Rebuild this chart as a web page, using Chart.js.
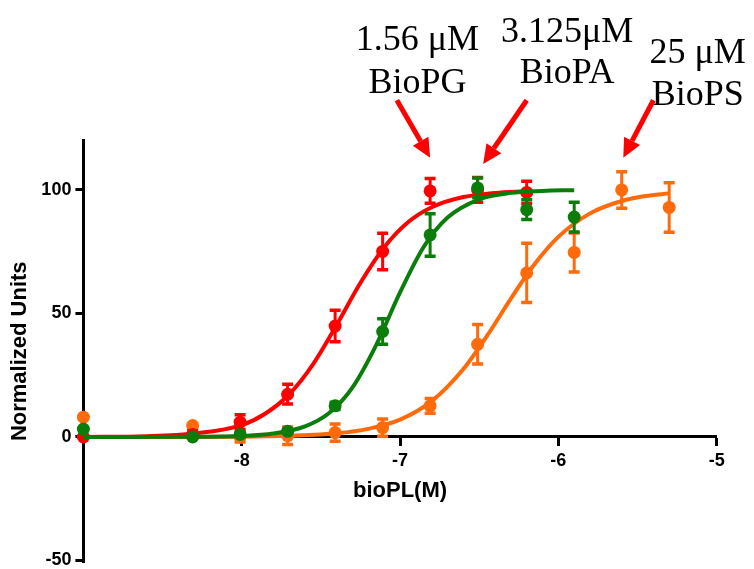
<!DOCTYPE html>
<html>
<head>
<meta charset="utf-8">
<script src="https://cdn.jsdelivr.net/npm/chart.js@4/dist/chart.umd.min.js"></script>
<style>
  body { margin: 0; background: #fff; }
  #wrap { width: 754px; height: 569px; }
</style>
</head>
<body>
<div id="wrap"><canvas id="chart" width="754" height="569"></canvas></div>
<script>
// log[bioPL] (M); -9 is the vehicle point plotted on the axis
const doses = [-9, -8.31, -8.01, -7.71, -7.41, -7.11, -6.81, -6.51, -6.2, -5.9, -5.6, -5.3];

const pgMean = [0, 1, 6, 17.3, 44.9, 75.1, 99.6, 100, 99];
const pgErr = [0, 1.5, 3, 4, 6.4, 7.4, 5, 5, 4.5];
const paMean = [3.2, 0, 1, 2.3, 12.6, 42.7, 81.8, 100.8, 92, 89];
const paErr = [0, 0.5, 0.5, 0.8, 1.5, 5.2, 8.6, 4, 4, 6];
const psMean = [8, 4.6, 0, 0.5, 1.8, 3.8, 12.6, 37.5, 66.4, 74.7, 100, 92.9];
const psErr = [0, 0, 2, 3.5, 3.5, 3.5, 3, 8, 12, 7.9, 7.4, 10];

// fitted curves
const pgFitX = [-9, -8.6, -8.3, -8.0, -7.85, -7.7, -7.55, -7.4, -7.25, -7.1, -6.95, -6.8, -6.6, -6.4, -6.2];
const pgFitY = [0, 0.3, 1.4, 4.8, 9.5, 17.3, 29.4, 45.4, 62.4, 76.8, 86.9, 93, 97.1, 98.8, 99.5];
const paFitX = [-9, -8.3, -8.0, -7.8, -7.6, -7.45, -7.3, -7.15, -7.0, -6.85, -6.7, -6.5, -6.3, -6.1, -5.9];
const paFitY = [0, 0.1, 0.4, 1.4, 4.3, 9.6, 20.1, 37.3, 58.5, 77, 88.8, 96.2, 98.8, 99.6, 99.9];
const psFitX = [-9, -8.5, -8.0, -7.7, -7.4, -7.2, -7.0, -6.8, -6.6, -6.45, -6.3, -6.15, -6.0, -5.8, -5.6, -5.45, -5.3];
const psFitY = [0, 0, 0.1, 0.5, 1.5, 3.3, 7.0, 14.5, 27.5, 41, 56, 70, 81, 90.5, 95.5, 97.5, 98.6];

const xTicks = [-8, -7, -6, -5];
const yTicks = [-50, 0, 50, 100];

const RED = '#ff0000', GREEN = '#0a7d0a', ORANGE = '#ff6a0a';

// annotations: label lines, text anchor, arrow tail -> tip (data coords)
const notes = [
  { lines: ['1.56 \u03bcM', 'BioPG'], x: -6.89, y: [156.5, 139.1], from: [-7.02, 136.3], to: [-6.81, 113], color: RED },
  { lines: ['3.125\u03bcM', 'BioPA'], x: -5.945, y: [159.7, 143.1], from: [-6.2, 136.3], to: [-6.475, 110.5], color: RED },
  { lines: ['25 \u03bcM', 'BioPS'], x: -5.12, y: [151.2, 134.3], from: [-5.4, 136.3], to: [-5.59, 113], color: RED },
];

const pts = (xs, ys) => ys.map((v, i) => ({ x: xs[i], y: v }));

function pointSet(label, means, errs, color, order) {
  return {
    label, data: pts(doses, means), errors: errs,
    backgroundColor: color, borderColor: color,
    pointRadius: 6.5, pointHoverRadius: 6.5, borderWidth: 0,
    showLine: false, clip: false, order,
  };
}

function fitSet(label, xs, ys, color, order) {
  return {
    label, data: pts(xs, ys), borderColor: color, backgroundColor: color,
    borderWidth: 4, pointRadius: 0, showLine: true,
    cubicInterpolationMode: 'monotone', clip: false, order,
  };
}

const errorBars = {
  id: 'errorBars',
  afterDatasetDraw(chart, args) {
    const ds = chart.data.datasets[args.index];
    if (!ds.errors) return;
    const { ctx, scales: { x, y } } = chart;
    ctx.save();
    ctx.strokeStyle = ds.backgroundColor;
    ds.data.forEach((p, i) => {
      const e = ds.errors[i];
      if (!e) return;
      const px = x.getPixelForValue(p.x);
      const top = y.getPixelForValue(p.y + e);
      const bot = y.getPixelForValue(p.y - e);
      ctx.lineWidth = 3;
      ctx.beginPath();
      ctx.moveTo(px, top); ctx.lineTo(px, bot);
      ctx.stroke();
      ctx.lineWidth = 3.5;
      ctx.beginPath();
      ctx.moveTo(px - 5.5, top); ctx.lineTo(px + 5.5, top);
      ctx.moveTo(px - 5.5, bot); ctx.lineTo(px + 5.5, bot);
      ctx.stroke();
    });
    ctx.restore();
  }
};

const callouts = {
  id: 'callouts',
  afterDraw(chart) {
    const { ctx, scales: { x, y } } = chart;
    ctx.save();
    ctx.font = '36px "Liberation Serif", "Times New Roman", serif';
    ctx.textAlign = 'center';
    ctx.textBaseline = 'alphabetic';
    notes.forEach(n => {
      ctx.fillStyle = '#000';
      n.lines.forEach((t, i) => ctx.fillText(t, x.getPixelForValue(n.x), y.getPixelForValue(n.y[i])));
      const x0 = x.getPixelForValue(n.from[0]), y0 = y.getPixelForValue(n.from[1]);
      const x1 = x.getPixelForValue(n.to[0]), y1 = y.getPixelForValue(n.to[1]);
      const ang = Math.atan2(y1 - y0, x1 - x0);
      const head = 19, half = 9;
      const bx = x1 - head * Math.cos(ang), by = y1 - head * Math.sin(ang);
      ctx.strokeStyle = n.color;
      ctx.fillStyle = n.color;
      ctx.lineWidth = 5;
      ctx.beginPath();
      ctx.moveTo(x0, y0); ctx.lineTo(bx, by);
      ctx.stroke();
      ctx.beginPath();
      ctx.moveTo(x1, y1);
      ctx.lineTo(bx + half * Math.sin(ang), by - half * Math.cos(ang));
      ctx.lineTo(bx - half * Math.sin(ang), by + half * Math.cos(ang));
      ctx.closePath();
      ctx.fill();
    });
    ctx.restore();
  }
};

const tickFont = { family: '"Liberation Sans", Arial, sans-serif', size: 18, weight: 'bold' };
const titleFont = { family: '"Liberation Sans", Arial, sans-serif', size: 22, weight: 'bold' };

new Chart(document.getElementById('chart'), {
  type: 'scatter',
  data: {
    datasets: [
      pointSet('BioPA', paMean, paErr, GREEN, 0),
      fitSet('BioPA fit', paFitX, paFitY, GREEN, 1),
      pointSet('BioPG', pgMean, pgErr, RED, 2),
      fitSet('BioPG fit', pgFitX, pgFitY, RED, 3),
      pointSet('BioPS', psMean, psErr, ORANGE, 4),
      fitSet('BioPS fit', psFitX, psFitY, ORANGE, 5),
    ]
  },
  options: {
    responsive: false,
    animation: false,
    events: [],
    layout: { padding: { top: 140, right: 37.3, bottom: 1, left: 0 } },
    plugins: { legend: { display: false }, tooltip: { enabled: false } },
    scales: {
      x: {
        type: 'linear', min: -9, max: -5,
        position: { y: 0 },
        afterBuildTicks: s => { s.ticks = xTicks.map(v => ({ value: v })); },
        ticks: { color: '#000', font: tickFont, padding: 5 },
        grid: { drawOnChartArea: false, drawTicks: true, tickLength: 8, tickWidth: 3, tickColor: '#000' },
        border: { display: true, color: '#000', width: 3 },
        title: { display: true, text: 'bioPL(M)', color: '#000', font: titleFont, padding: { top: 1, bottom: 0 } },
      },
      y: {
        type: 'linear', min: -50.8, max: 120.2,
        afterBuildTicks: s => { s.ticks = yTicks.map(v => ({ value: v })); },
        afterFit: s => { s.width = 83.4; s.paddingTop = 0; s.paddingBottom = 0; },
        ticks: { color: '#000', font: tickFont, padding: 4 },
        grid: { drawOnChartArea: false, drawTicks: true, tickLength: 8, tickWidth: 3, tickColor: '#000' },
        border: { display: true, color: '#000', width: 3 },
        title: { display: true, text: 'Normalized Units', color: '#000', font: titleFont, padding: { top: 7, bottom: 0 } },
      }
    }
  },
  plugins: [errorBars, callouts]
});
</script>
</body>
</html>
